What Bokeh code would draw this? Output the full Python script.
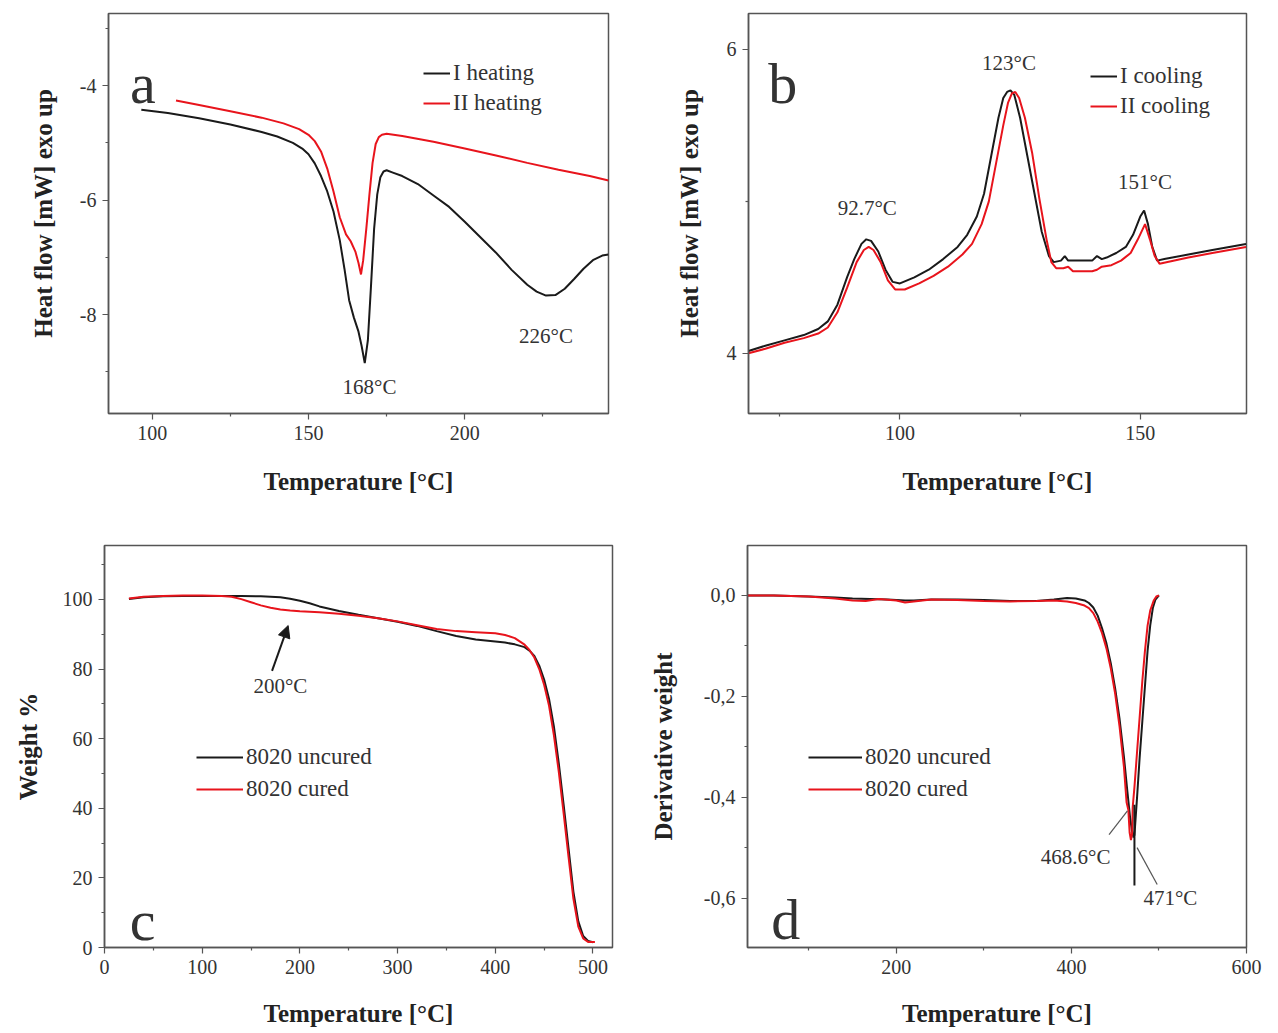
import numpy as np
from bokeh.plotting import figure
from bokeh.models import Range1d, FixedTicker, CustomJSTickFormatter, Arrow, NormalHead
from bokeh.layouts import column, row
from bokeh.embed import file_html
from bokeh.resources import INLINE
from bokeh.core.properties import value

SERIF = "Liberation Serif"
BLACK = "#1a1a1a"
RED = "#e8141c"
AXC = "#555555"

# ---------------- Panel a : DSC heating ----------------
a_heat1_T = [96.5, 105, 115, 125, 135, 140, 145, 148, 150, 152, 154, 156, 158, 160, 161.5, 163, 164.5,
             166, 167, 168, 169, 170, 171, 172, 173, 174, 175, 177, 180, 185, 190, 195, 200, 205, 210,
             215, 220, 223, 226, 229, 232, 235, 238, 241, 244, 246]
a_heat1_Y = [-4.42, -4.48, -4.57, -4.68, -4.81, -4.89, -5.00, -5.10, -5.20, -5.36, -5.58, -5.85, -6.20,
             -6.70, -7.20, -7.75, -8.05, -8.30, -8.55, -8.85, -8.45, -7.50, -6.50, -5.90, -5.60, -5.50,
             -5.48, -5.52, -5.58, -5.72, -5.92, -6.12, -6.38, -6.65, -6.92, -7.22, -7.48, -7.60, -7.67,
             -7.66, -7.55, -7.38, -7.20, -7.05, -6.97, -6.95]
a_heat2_T = [107.6, 115, 125, 135, 142, 147, 150, 152, 154, 156, 158, 160, 162, 163.5, 165, 166, 166.8,
             167.5, 168.5, 169.5, 170.5, 171.5, 172.5, 173.5, 175, 180, 190, 200, 210, 220, 230, 240, 246]
a_heat2_Y = [-4.26, -4.34, -4.45, -4.56, -4.66, -4.76, -4.86, -4.97, -5.15, -5.45, -5.85, -6.30, -6.60,
             -6.72, -6.90, -7.10, -7.30, -7.05, -6.50, -5.90, -5.35, -5.02, -4.90, -4.86, -4.84, -4.88,
             -4.98, -5.10, -5.22, -5.35, -5.47, -5.58, -5.66]
a_xticks = [100, 150, 200]
a_xminor = [125, 175, 225]
a_yticks = [-4, -6, -8]
a_yminor = [-3, -5, -7, -9]

# ---------------- Panel b : DSC cooling ----------------
b_cool1_T = [68.5, 72, 76, 80, 83, 85, 87, 89, 90.5, 92, 93, 94, 95.5, 97, 98.5, 100, 103, 106, 109, 112,
             114, 116, 117.5, 119, 120.5, 121.5, 122.3, 123, 123.8, 125, 126.5, 128, 129.5, 131, 132,
             133.5, 134.3, 135, 136, 138, 140, 141, 142, 143, 145, 147, 148.5, 150, 150.8, 151.6, 152.5,
             153.5, 155, 160, 165, 172]
b_cool1_Y = [4.015, 4.05, 4.085, 4.12, 4.16, 4.21, 4.32, 4.50, 4.62, 4.72, 4.75, 4.74, 4.67, 4.55, 4.47,
             4.46, 4.50, 4.55, 4.62, 4.70, 4.78, 4.90, 5.05, 5.30, 5.55, 5.68, 5.72, 5.73, 5.70, 5.55,
             5.30, 5.05, 4.80, 4.64, 4.60, 4.61, 4.64, 4.61, 4.61, 4.61, 4.61, 4.64, 4.62, 4.63, 4.66,
             4.70, 4.78, 4.90, 4.94, 4.85, 4.70, 4.61, 4.62, 4.65, 4.68, 4.72]
b_cool2_T = [68.5, 72, 76, 80, 83, 85, 87, 89, 91, 92.5, 93.5, 94.5, 96, 97.5, 99, 101, 104, 107, 110, 113,
             115, 117, 118.5, 120, 121.5, 122.5, 123.3, 124, 124.8, 126, 127.5, 129, 130.5, 131.5, 132.5,
             134, 135, 136, 138, 140, 141, 142, 144, 146, 148, 149.5, 151, 152, 153, 154, 160, 165, 172]
b_cool2_Y = [4.00, 4.03, 4.07, 4.10, 4.13, 4.17, 4.27, 4.43, 4.60, 4.68, 4.70, 4.68, 4.60, 4.48, 4.42,
             4.42, 4.46, 4.51, 4.57, 4.65, 4.72, 4.85, 5.00, 5.25, 5.50, 5.65, 5.71, 5.72, 5.68, 5.55,
             5.32, 5.02, 4.75, 4.60, 4.56, 4.56, 4.57, 4.54, 4.54, 4.54, 4.55, 4.57, 4.58, 4.61, 4.66,
             4.75, 4.85, 4.75, 4.64, 4.59, 4.63, 4.66, 4.70]
b_xticks = [100, 150]
b_xminor = [75, 125]
b_yticks = [4, 6]
b_yminor = [5]

# ---------------- Panel c : TGA ----------------
c_uncured_T = [25, 40, 60, 80, 100, 120, 140, 160, 180, 190, 200, 210, 220, 240, 260, 280, 300, 320, 340,
               360, 380, 400, 410, 420, 430, 435, 440, 445, 450, 455, 460, 465, 470, 475, 480, 485, 490,
               495, 500]
c_uncured_W = [100.1, 100.6, 100.9, 101.0, 101.0, 101.0, 101.0, 100.9, 100.6, 100.2, 99.6, 98.9, 98.0,
               96.7, 95.6, 94.6, 93.6, 92.4, 90.9, 89.5, 88.5, 87.9, 87.6, 87.1, 86.3, 85.3, 83.8, 81.0,
               77.0, 71.5, 63.5, 53.0, 41.0, 28.5, 16.0, 7.5, 3.3, 1.9, 1.5]
c_cured_T = [25, 40, 60, 80, 100, 120, 130, 140, 150, 160, 170, 180, 190, 200, 220, 240, 260, 280, 300,
             320, 340, 360, 380, 400, 410, 420, 430, 435, 440, 445, 450, 455, 460, 465, 470, 475, 480,
             485, 490, 495, 502]
c_cured_W = [100.3, 100.8, 101.0, 101.1, 101.1, 101.0, 100.8, 100.1, 99.2, 98.3, 97.6, 97.1, 96.8, 96.6,
             96.3, 95.9, 95.3, 94.6, 93.7, 92.6, 91.5, 90.9, 90.6, 90.3, 89.8, 88.9, 87.0, 85.5, 83.3,
             80.0, 75.5, 69.5, 61.0, 50.5, 38.5, 26.0, 14.0, 6.0, 2.6, 1.6, 1.6]
c_xticks = [0, 100, 200, 300, 400, 500]
c_xminor = [50, 150, 250, 350, 450]
c_yticks = [0, 20, 40, 60, 80, 100]
c_yminor = [10, 30, 50, 70, 90, 110]

# ---------------- Panel d : DTG ----------------
d_uncured_T = [30, 60, 100, 130, 150, 170, 190, 210, 220, 240, 270, 300, 330, 360, 380, 395, 405, 415, 420,
               425, 430, 435, 440, 445, 450, 455, 460, 464, 467, 469, 471, 472, 473, 475, 478, 481, 484,
               487, 490, 493, 496, 500]
d_uncured_D = [0.0, 0.0, -0.002, -0.004, -0.006, -0.007, -0.008, -0.010, -0.010, -0.008, -0.008, -0.009,
               -0.011, -0.011, -0.008, -0.005, -0.006, -0.010, -0.015, -0.024, -0.040, -0.065, -0.095,
               -0.135, -0.185, -0.245, -0.320, -0.390, -0.440, -0.465, -0.480, -0.475, -0.450, -0.400,
               -0.320, -0.250, -0.180, -0.110, -0.060, -0.025, -0.008, 0.0]
d_cured_T = [30, 60, 100, 130, 150, 165, 180, 200, 210, 220, 240, 270, 300, 330, 360, 380, 395, 405, 415,
             420, 425, 430, 435, 440, 445, 450, 455, 460, 463, 465, 466.5, 468, 469.5, 470, 472, 475, 478,
             481, 484, 487, 490, 494, 497, 500]
d_cured_D = [0.0, 0.0, -0.002, -0.006, -0.010, -0.011, -0.007, -0.010, -0.014, -0.012, -0.008, -0.009,
             -0.011, -0.012, -0.011, -0.010, -0.012, -0.015, -0.020, -0.025, -0.035, -0.052, -0.075,
             -0.105, -0.145, -0.195, -0.260, -0.340, -0.410, -0.425, -0.470, -0.485, -0.470, -0.420,
             -0.380, -0.310, -0.240, -0.170, -0.110, -0.060, -0.030, -0.010, -0.002, 0.0]
d_xticks = [200, 400, 600]
d_xminor = [100, 300, 500]
d_yticks = [0.0, -0.2, -0.4, -0.6]
d_yminor = [-0.1, -0.3, -0.5]


def make_fig(xr, yr, bl, fw, br, bt, fh, bb, xt, xm, yt, ym, xlabel, ylabel, ystand, xstand=20):
    p = figure(output_backend="svg", toolbar_location=None, x_range=Range1d(*xr), y_range=Range1d(*yr),
               frame_width=fw, frame_height=fh, min_border_left=bl, min_border_right=br,
               min_border_top=bt, min_border_bottom=bb, background_fill_color="white",
               border_fill_color="white")
    p.outline_line_color = AXC
    p.outline_line_width = 1.5
    p.outline_line_alpha = 1.0
    p.xgrid.visible = False
    p.ygrid.visible = False
    p.xaxis.ticker = FixedTicker(ticks=xt, minor_ticks=xm)
    p.yaxis.ticker = FixedTicker(ticks=yt, minor_ticks=ym)
    p.xaxis.axis_label = xlabel
    p.yaxis.axis_label = ylabel
    for ax in [p.xaxis[0], p.yaxis[0]]:
        ax.axis_line_color = AXC
        ax.axis_line_width = 1.5
        ax.major_tick_line_color = AXC
        ax.minor_tick_line_color = AXC
        ax.major_tick_line_width = 1.2
        ax.minor_tick_line_width = 1.2
        ax.major_tick_out = 6
        ax.major_tick_in = 0
        ax.minor_tick_out = 3
        ax.minor_tick_in = 0
        ax.major_label_text_font = SERIF
        ax.major_label_text_font_size = "20px"
        ax.major_label_text_color = "#333333"
        ax.major_label_standoff = 6
        ax.axis_label_text_font = SERIF
        ax.axis_label_text_font_style = "bold"
        ax.axis_label_text_font_size = "25px"
        ax.axis_label_text_color = "#222222"
    p.yaxis[0].formatter = CustomJSTickFormatter(code="return String(tick);")
    p.yaxis[0].axis_label_standoff = ystand
    p.xaxis[0].axis_label_standoff = xstand
    return p


def style_legend(p, loc, gw, gh):
    lg = p.legend[0]
    lg.location = loc
    lg.border_line_color = None
    lg.background_fill_alpha = 0
    lg.label_text_font = SERIF
    lg.label_text_font_size = "23px"
    lg.label_text_color = "#333333"
    lg.glyph_width = gw
    lg.glyph_height = gh
    lg.label_height = gh
    lg.label_standoff = 3
    lg.spacing = 0
    lg.padding = 0
    lg.margin = 0


def label(p, x, y, txt, size="21px", align="center", baseline="middle"):
    p.text(x=[x], y=[y], text=[txt], text_font=value(SERIF), text_font_size=size,
           text_color="#333333", text_align=align, text_baseline=baseline)


# ---- a ----
pa = make_fig((86, 246), (-9.73, -2.74), 108, 500, 32, 13, 400, 107, a_xticks, a_xminor, a_yticks,
              a_yminor, "Temperature [°C]", "Heat flow [mW] exo up", 20, xstand=25)
pa.line(a_heat1_T, a_heat1_Y, line_color=BLACK, line_width=2, legend_label="I heating")
pa.line(a_heat2_T, a_heat2_Y, line_color=RED, line_width=2, legend_label="II heating")
style_legend(pa, (315, 295), 27, 30)
label(pa, 97.0, -3.96, "a", size="58px", baseline="alphabetic")
label(pa, 169.5, -9.27, "168°C")
label(pa, 226, -8.38, "226°C")

# ---- b ----
pb = make_fig((68.5, 172.1), (3.604, 6.236), 108, 498, 32, 13, 400, 107, b_xticks, b_xminor, b_yticks,
              b_yminor, "Temperature [°C]", "Heat flow [mW] exo up", 21, xstand=25)
pb.line(b_cool1_T, b_cool1_Y, line_color=BLACK, line_width=2, legend_label="I cooling")
pb.line(b_cool2_T, b_cool2_Y, line_color=RED, line_width=2, legend_label="II cooling")
style_legend(pb, (342, 292), 27, 30)
label(pb, 75.6, 5.775, "b", size="58px", baseline="alphabetic")
label(pb, 122.7, 5.91, "123°C")
label(pb, 93.2, 4.956, "92.7°C")
label(pb, 151.0, 5.13, "151°C")

# ---- c ----
pc = make_fig((0, 520), (0, 115.5), 104, 508, 28, 25, 402, 86, c_xticks, c_xminor, c_yticks, c_yminor,
              "Temperature [°C]", "Weight %", 18, xstand=23)
pc.line(c_uncured_T, c_uncured_W, line_color=BLACK, line_width=2, legend_label="8020 uncured")
pc.line(c_cured_T, c_cured_W, line_color=RED, line_width=2, legend_label="8020 cured")
style_legend(pc, (92, 142), 47, 32)
label(pc, 39, 7.8, "c", size="58px", baseline="alphabetic")
label(pc, 180, 75, "200°C")
pc.add_layout(Arrow(end=NormalHead(size=12, fill_color=BLACK, line_color=BLACK), x_start=171.5,
                    y_start=79.5, x_end=188, y_end=92.5, line_color=BLACK, line_width=2))

# ---- d ----
pd = make_fig((30, 600), (-0.698, 0.099), 107, 499, 32, 25, 402, 86, d_xticks, d_xminor, d_yticks,
              d_yminor, "Temperature [°C]", "Derivative weight", 24, xstand=23)
pd.yaxis[0].formatter = CustomJSTickFormatter(
    code="var s = Math.abs(tick) < 1e-9 ? '0.0' : tick.toFixed(1); return s.replace('.', ',');")
pd.line(d_uncured_T, d_uncured_D, line_color=BLACK, line_width=2, legend_label="8020 uncured")
pd.line(d_cured_T, d_cured_D, line_color=RED, line_width=2, legend_label="8020 cured")
style_legend(pd, (61, 142), 54, 32)
pd.segment(x0=[443, 475, 472], y0=[-0.474, -0.50, -0.415], x1=[464, 498, 472], y1=[-0.427, -0.573, -0.575],
           line_color=["#555555", "#555555", BLACK], line_width=[1.2, 1.2, 2])
label(pd, 73.6, -0.643, "d", size="58px", baseline="alphabetic")
label(pd, 404.8, -0.519, "468.6°C")
label(pd, 513, -0.599, "471°C")

layout = column(row(pa, pb), row(pc, pd))
open("out.html", "w").write(file_html(layout, INLINE))
